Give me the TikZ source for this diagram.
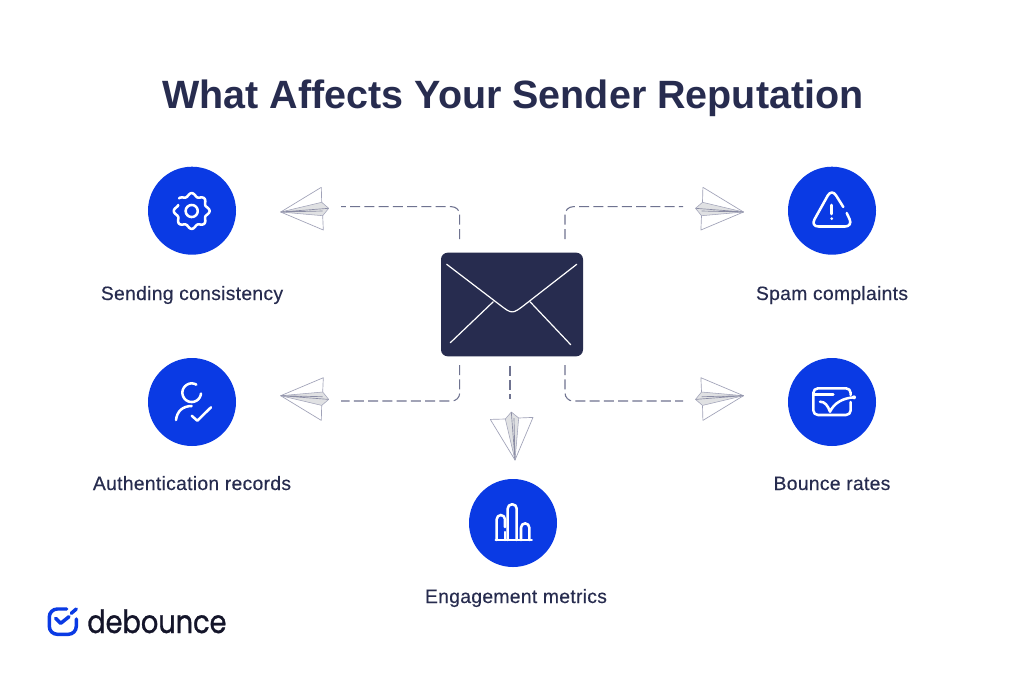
\documentclass[tikz,border=0pt]{standalone}
\usepackage{fontspec}
\setmainfont{Liberation Sans}
\newfontfamily\titlefont{Liberation Sans Bold}
\newfontfamily\labelfont[FakeBold=0.3,LetterSpace=1.5]{Liberation Sans}
\newfontfamily\logofont[FakeStretch=0.85,FakeBold=0.9]{Poppins}
\definecolor{navy}{HTML}{272C4F}
\definecolor{dashc}{HTML}{6F7390}
\definecolor{royal}{HTML}{0A3AE4}
\definecolor{planeedge}{HTML}{A0A2B8}
\definecolor{planeline}{HTML}{8A8CA4}
\definecolor{planefill}{HTML}{E0E1E3}
\definecolor{logodark}{HTML}{14152A}
\tikzset{
  ttl/.style={text=navy,font=\titlefont\fontsize{29.6}{36}\selectfont,inner sep=0pt,anchor=base},
  lbl/.style={text=navy,font=\labelfont\fontsize{14.5}{17}\selectfont,inner sep=0pt,anchor=base},
  disc/.style={circle,fill=royal,draw=none,minimum size=66pt,inner sep=0pt},
  ico/.style={draw=white,line width=1.9pt,line cap=round,line join=round},
  dsh/.style={draw=dashc,line width=0.8pt,dash pattern=on 7.5pt off 3.2pt,rounded corners=6pt},
  envflap/.style={draw=white,line width=0.9pt,line cap=round,line join=round},
}
% \paperplane{tip}{x vector}{y vector}
\newcommand{\paperplane}[3]{%
  \begin{scope}[shift={(#1)},x={(#2)},y={(#3)}]
    \draw[planeedge,line width=0.5pt,line join=round] (41,-9.7) -- (40.6,-24.7) -- (0,0) -- (42.6,18) -- (42,3.7);
    \fill[planefill] (0,0) -- (41,-9.7) -- (48,-3.7) -- (42,3.7) -- cycle;
    \draw[planeedge,line width=0.4pt,line join=round] (0,0) -- (41,-9.7) -- (48,-3.7) -- (42,3.7) -- cycle;
    \draw[planeline,line width=0.5pt] (0,0) -- (48,-3.7) (0,0) -- (42,-1);
  \end{scope}}
\begin{document}
\begin{tikzpicture}[x=0.75pt,y=-0.75pt]
\useasboundingbox (0,0) rectangle (1024,683);
\fill[white] (0,0) rectangle (1024,683);

\node[ttl] (title) at (513,108) {What Affects Your Sender Reputation};

% envelope
\node[fill=navy,rounded corners=5pt,minimum width=106.5pt,minimum height=77.7pt,inner sep=0pt] (env) at (512,304.5) {};
\draw[envflap] (446.7,264.3) -- (500,305) .. controls (512,314.2) and (512.4,314.2) .. (524.4,305) -- (576.7,264.3);
\draw[envflap] (450.3,342.7) -- (493.3,301.7);
\draw[envflap] (570.7,344.7) -- (530,301.7);

% connector ends
\coordinate (tlA) at (459.7,239); \coordinate (tlB) at (341,206.7);
\coordinate (trA) at (565,239);   \coordinate (trB) at (683,206.7);
\coordinate (blA) at (459.7,365); \coordinate (blB) at (341,401);
\coordinate (brA) at (565,365);   \coordinate (brB) at (683,401);
\coordinate (bcA) at (510,365.5); \coordinate (bcB) at (510,399);
\draw[dsh] (tlA) |- (tlB);
\draw[dsh] (trA) |- (trB);
\draw[dsh] (blA) |- (blB);
\draw[dsh] (brA) |- (brB);
\draw[dsh] (bcA) -- (bcB);

% planes
\paperplane{280.7,212}{0.75pt,0pt}{0pt,-0.75pt}
\paperplane{743.5,212}{-0.75pt,0pt}{0pt,-0.75pt}
\paperplane{280.7,395.7}{0.75pt,0pt}{0pt,0.75pt}
\paperplane{743.5,395.7}{-0.75pt,0pt}{0pt,0.75pt}
\paperplane{515,460}{0pt,0.75pt}{0.75pt,0pt}

% discs
\node[disc] (d1) at (192,210.7) {};
\node[disc] (d2) at (192,402) {};
\node[disc] (d3) at (832,210.7) {};
\node[disc] (d4) at (832,402) {};
\node[disc] (d5) at (513,523) {};

% gear
\draw[ico] plot[smooth,samples=90,domain=156:495,variable=\t] ({191.7+(16.3+1.6*cos(8*\t))*cos(\t)},{211-(16.3+1.6*cos(8*\t))*sin(\t)});
\draw[ico] plot[smooth,samples=40,domain=0:360,variable=\t] ({191.7+6*cos(\t)},{211-6*sin(\t)});

% person
\draw[ico] plot[smooth,samples=40,domain=60:355,variable=\t] ({191.7+9.3*cos(\t)},{392.7-9.3*sin(\t)});
\draw[ico] (176,420) .. controls (177,411) and (183,406) .. (191.7,406);
\draw[ico] (191.7,415.7) -- (197.3,420.7) -- (211,407.3);

% warning
\draw[ico,rounded corners=6pt] (843.3,207) -- (831.7,188.5) -- (810.5,226.5) -- (853,226.5) -- (846.7,213);
\draw[ico] (831.7,205) -- (831.7,214);
\fill[white] (831.7,218.6) circle[radius=1.5];

% bounce
\draw[ico,rounded corners=3.5pt] (850.7,395) -- (850.7,388.3) -- (813.3,388.3) -- (813.3,415) -- (850.7,415) -- (850.7,402);
\draw[ico] (813.3,394.3) -- (833.3,394.3);
\draw[ico] (820,401.7) .. controls (825,401.5) and (828,406) .. (830,411.7) .. controls (834,403) and (843,398) .. (854,397.3);
\fill[white] (854,397.3) circle[radius=2];

% bars
\draw[ico] (495.7,540) -- (531.7,540);
\draw[ico,rounded corners=3.2pt] (496.7,540) -- (496.7,515) -- (505,515) -- (505,527);
\draw[ico] (505,532) -- (505,540);
\draw[ico,rounded corners=3.2pt] (507.7,540) -- (507.7,504.3) -- (516.7,504.3) -- (516.7,540);
\draw[ico,rounded corners=3.2pt] (521,540) -- (521,523.3) -- (529.3,523.3) -- (529.3,540);

% labels
\node[lbl] (l1) at (192,300) {Sending consistency};
\node[lbl] (l2) at (192,490) {Authentication records};
\node[lbl] (l3) at (832,300) {Spam complaints};
\node[lbl] (l4) at (832,490) {Bounce rates};
\node[lbl] (l5) at (516,603) {Engagement metrics};

% logo
\draw[draw=royal,line width=2.6pt,line cap=round,rounded corners=6pt] (66.7,609) -- (49.3,609) -- (49.3,634.3) -- (76.3,634.3) -- (76.3,619);
\draw[draw=royal,line width=2.6pt,line cap=round] (71.3,613.3) -- (76.3,609);
\draw[draw=royal,line width=2.6pt,line cap=round,line join=round] (55.7,618.3) -- (60.7,623.3) -- (69,616.7);
\node[text=logodark,font=\logofont\fontsize{24}{30}\selectfont,inner sep=0pt,anchor=base west] (logo) at (87,633) {debounce};
\end{tikzpicture}
\end{document}
